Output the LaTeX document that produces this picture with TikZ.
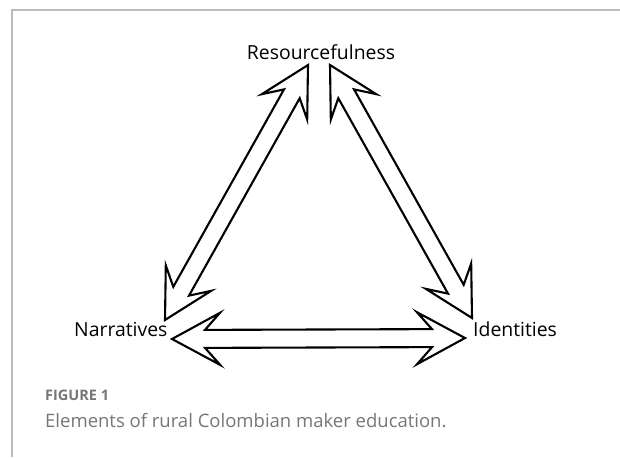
\documentclass[tikz,border=0pt]{standalone}
\usepackage{fontspec}
\setmainfont{Open Sans}
\newfontfamily\capfont[Ligatures=NoCommon]{Open Sans}
\usepackage{tikz}
\usetikzlibrary{arrows.meta}

\definecolor{framegray}{HTML}{BBBBBB}
\definecolor{capgray}{HTML}{767676}

\tikzset{
  lbl/.style={inner sep=0pt, font=\fontsize{19.4}{22}\selectfont},
  blockarrow/.style={draw=black, fill=white, line width=2.1pt, line join=miter},
}

\begin{document}
\begin{tikzpicture}[x=1pt, y=-1pt]
  \useasboundingbox (0,0) rectangle (620,457);

  % size of the heads
  \newcommand\HL{48}; % head length
  \newcommand\HW{26}; % half width of head
  \newcommand\NI{33}; % notch
  \newcommand\SW{9};  % half width of shaft

  % two-headed block arrow between two named points
  \newcommand\twoway[2]{%
    \pgfpointdiff{\pgfpointanchor{#1}{center}}{\pgfpointanchor{#2}{center}}%
    \pgfgetlastxy{\arrdx}{\arrdy}%
    \pgfmathsetmacro\arrlen{veclen(\arrdx,\arrdy)}%
    \pgfmathsetmacro\arrang{atan2(\arrdy,\arrdx)}%
    \begin{scope}[shift={(#1)}, rotate=\arrang]
      \draw[blockarrow] (0,0) -- (\HL,\HW) -- (\NI,\SW) -- (\arrlen-\NI,\SW)
        -- (\arrlen-\HL,\HW) -- (\arrlen,0) -- (\arrlen-\HL,-\HW)
        -- (\arrlen-\NI,-\SW) -- (\NI,-\SW) -- (\HL,-\HW) -- cycle;
    \end{scope}}

  % frame
  \draw[framegray, line width=1.3pt] (12,457) -- (12,10) -- (620,10);

  % labels
  \node[lbl, anchor=base] (res) at (321,60) {Resourcefulness};
  \node[lbl, anchor=base west] (nar) at (74,336) {Narratives};
  \node[lbl, anchor=base west] (ide) at (473,336) {Identities};

  % arrow tips
  \coordinate (resL) at (308,65);
  \coordinate (resR) at (330,65);
  \coordinate (narT) at (165,320);
  \coordinate (narB) at (172,339);
  \coordinate (ideT) at (472,318);
  \coordinate (ideB) at (465,338);

  \twoway{narT}{resL}; % N<->R
  \twoway{resR}{ideT}; % R<->I
  \twoway{narB}{ideB}; % N<->I

  % caption
  \node[anchor=base west, inner sep=0pt, text=capgray, font=\capfont\bfseries\fontsize{14.5}{16}\selectfont] (fig) at (45,400) {FIGURE 1};
  \node[anchor=base west, inner sep=0pt, text=capgray, font=\capfont\fontsize{18.5}{20}\selectfont] (cap) at (45,427) {Elements of rural Colombian maker education.};

\end{tikzpicture}
\end{document}
